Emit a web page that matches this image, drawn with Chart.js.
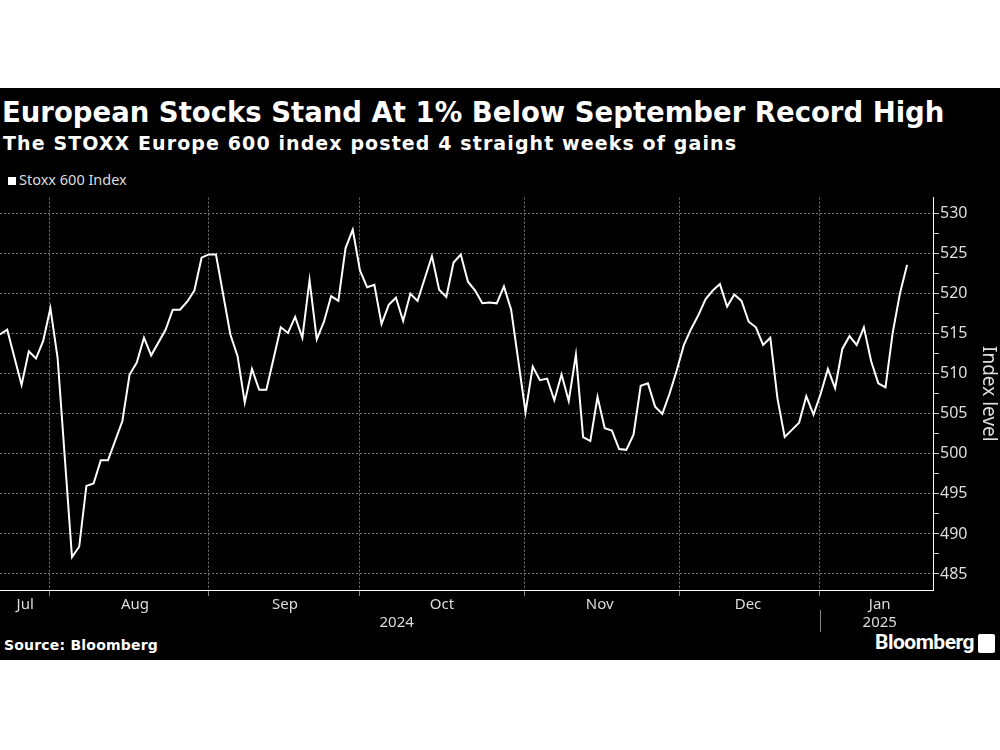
<!DOCTYPE html>
<html><head><meta charset="utf-8">
<script src="https://cdn.jsdelivr.net/npm/chart.js@4/dist/chart.umd.min.js"></script>
<style>
body{margin:0;background:#fff;width:1000px;height:750px;position:relative;overflow:hidden;font-family:"Noto Sans",sans-serif}
#bg{position:absolute;left:0;top:88px;width:1000px;height:572px;background:#000}
.t{position:absolute;color:#fff;white-space:nowrap}
#title{left:2px;top:96px;font-size:27.5px;font-weight:700;font-family:"DejaVu Sans";letter-spacing:0px}
#sub{left:3px;top:132px;font-size:19px;font-weight:700;font-family:"DejaVu Sans";letter-spacing:1.1px}
#leg{left:8px;top:169px;font-size:14.5px;color:#ddd}
#leg span{display:inline-block;width:8px;height:8px;background:#fff;margin-right:3px}
#src{left:4px;top:637px;font-size:14px;font-weight:700;font-family:"DejaVu Sans";letter-spacing:0.2px}
#logo{right:26px;top:630px;font-size:21px;font-weight:700;font-family:"Roboto";letter-spacing:-0.5px}
#logoicon{position:absolute;right:5px;top:634px;width:17px;height:19px;background:#fff;border-radius:2px}
canvas{position:absolute;left:0;top:187px}
</style></head><body>
<div id="bg"></div>
<div class="t" id="title">European Stocks Stand At 1% Below September Record High</div>
<div class="t" id="sub">The STOXX Europe 600 index posted 4 straight weeks of gains</div>
<div class="t" id="leg"><span></span>Stoxx 600 Index</div>
<div class="t" id="src">Source: Bloomberg</div>
<div class="t" id="logo">Bloomberg</div>
<div id="logoicon"></div>
<canvas id="c" width="1000" height="445"></canvas>
<script>
// trading-day index since Jul 22, 2024
const dayIndex = [0,1,3,4,5,6,7,8,10,11,12,13,14,15,17,18,19,20,21,23,24,25,26,27,28,29,30,32,33,34,35,36,37,39,40,41,42,43,44,45,
46,47,48,49,50,51,52,53,54,55,56,57,58,59,60,61,62,63,64,65,66,67,68,69,70,71,73,74,75,76,77,78,79,80,81,82,83,84,85,86,87,88,89,90,
91,92,93,94,95,96,97,98,99,100,101,102,103,104,105,106,107,108,109,110,111,112,113,114,115,116,117,118,119,120,121,122,123,124,125,126];
const stoxx600 = [514.9,515.5,508.6,512.8,511.9,514.1,518.2,512.0,487.1,488.4,496.0,496.3,499.2,499.2,504.1,509.9,511.4,514.5,512.3,515.5,518.0,518.0,519.0,520.4,524.5,524.9,524.9,514.9,512.2,506.4,510.6,508.0,508.0,515.8,515.1,517.1,514.5,521.7,514.3,516.5,
519.7,519.1,525.7,528.0,522.9,520.8,521.1,516.2,518.6,519.5,516.6,520.0,519.1,521.9,524.7,520.5,519.6,523.9,524.9,521.5,520.4,518.8,518.9,518.8,520.9,518.0,505.2,510.9,509.2,509.4,506.7,509.9,506.6,512.4,502.1,501.6,507.1,503.2,502.9,500.6,500.5,502.4,508.5,508.8,
505.9,505.0,507.5,510.4,513.6,515.6,517.3,519.3,520.4,521.2,518.4,519.9,519.1,516.5,515.8,513.6,514.5,506.9,502.1,503.0,503.9,507.2,504.9,507.5,510.6,508.2,513.1,514.7,513.6,515.8,511.6,508.8,508.3,515.1,520.0,523.6];
const monthStarts = [6.94,28.9,50,72.9,94.4,113.9];
const monthLabels = [{v:3.5,l:['Jul','']},{v:18.75,l:['Aug','']},{v:39.6,l:['Sep','']},{v:55.1,l:['','2024']},{v:61.4,l:['Oct','']},{v:83.3,l:['Nov','']},{v:103.9,l:['Dec','']},{v:122.2,l:['Jan','2025']}];
const yTicks = [485,490,495,500,505,510,515,520,525,530];

const isStart = v => monthStarts.some(m => Math.abs(m - v) < 1e-6);
const yearSep = {
  id:'yearSep',
  afterDraw(ch){
    const x = ch.scales.x.getPixelForValue(113.9), ctx = ch.ctx;
    ctx.save(); ctx.strokeStyle='#888'; ctx.lineWidth=1;
    ctx.beginPath(); ctx.moveTo(Math.round(x)+0.5, 423); ctx.lineTo(Math.round(x)+0.5, 446); ctx.stroke(); ctx.restore();
  }
};
new Chart(document.getElementById('c'), {
  type:'line',
  data:{datasets:[{data:dayIndex.map((d,i)=>({x:d,y:stoxx600[i]})),borderColor:'#fff',borderWidth:2,pointRadius:0,tension:0}]},
  options:{
    responsive:false,animation:false,devicePixelRatio:1,
    layout:{padding:{top:0,left:0,right:0,bottom:0}},
    plugins:{legend:{display:false},tooltip:{enabled:false}},
    scales:{
      x:{type:'linear',min:0,max:129.6,
        afterBuildTicks(s){ s.ticks = monthStarts.map(v=>({value:v})).concat(monthLabels.map(m=>({value:m.v}))); },
        ticks:{autoSkip:false,maxRotation:0,color:'#ddd',font:{family:'Noto Sans',size:15},padding:0,
          callback(v){ const m = monthLabels.find(q=>Math.abs(q.v-v)<1e-6); return m ? m.l : ''; }},
        grid:{color:c=>c.tick && isStart(c.tick.value)?'#777':'rgba(0,0,0,0)',
              tickColor:c=>c.tick && isStart(c.tick.value)?'#888':'rgba(0,0,0,0)',
              tickLength:6,lineWidth:1},
        border:{color:'#fff',dash:[2,2],display:true},
      },
      y:{position:'right',min:483,max:532,
        afterBuildTicks(s){ const t=[]; for(let v=485; v<=530; v+=2.5) t.push({value:v}); s.ticks=t; },
        afterFit(s){ s.width=67; },
        ticks:{autoSkip:false,color:'#ddd',font:{family:'Noto Sans',size:16},padding:1,
          callback(v){ return yTicks.includes(v) ? String(v) : ''; }},
        grid:{color:c=>c.tick && yTicks.includes(c.tick.value)?'#777':'rgba(0,0,0,0)',
              tickColor:'#ccc',tickLength:6},
        border:{color:'#fff',dash:[2,2]},
        title:{display:true,text:'Index level',color:'#ddd',font:{family:'Noto Sans',size:19},padding:{top:0,bottom:0}}
      }
    }
  },
  plugins:[yearSep]
});
</script>
</body></html>
